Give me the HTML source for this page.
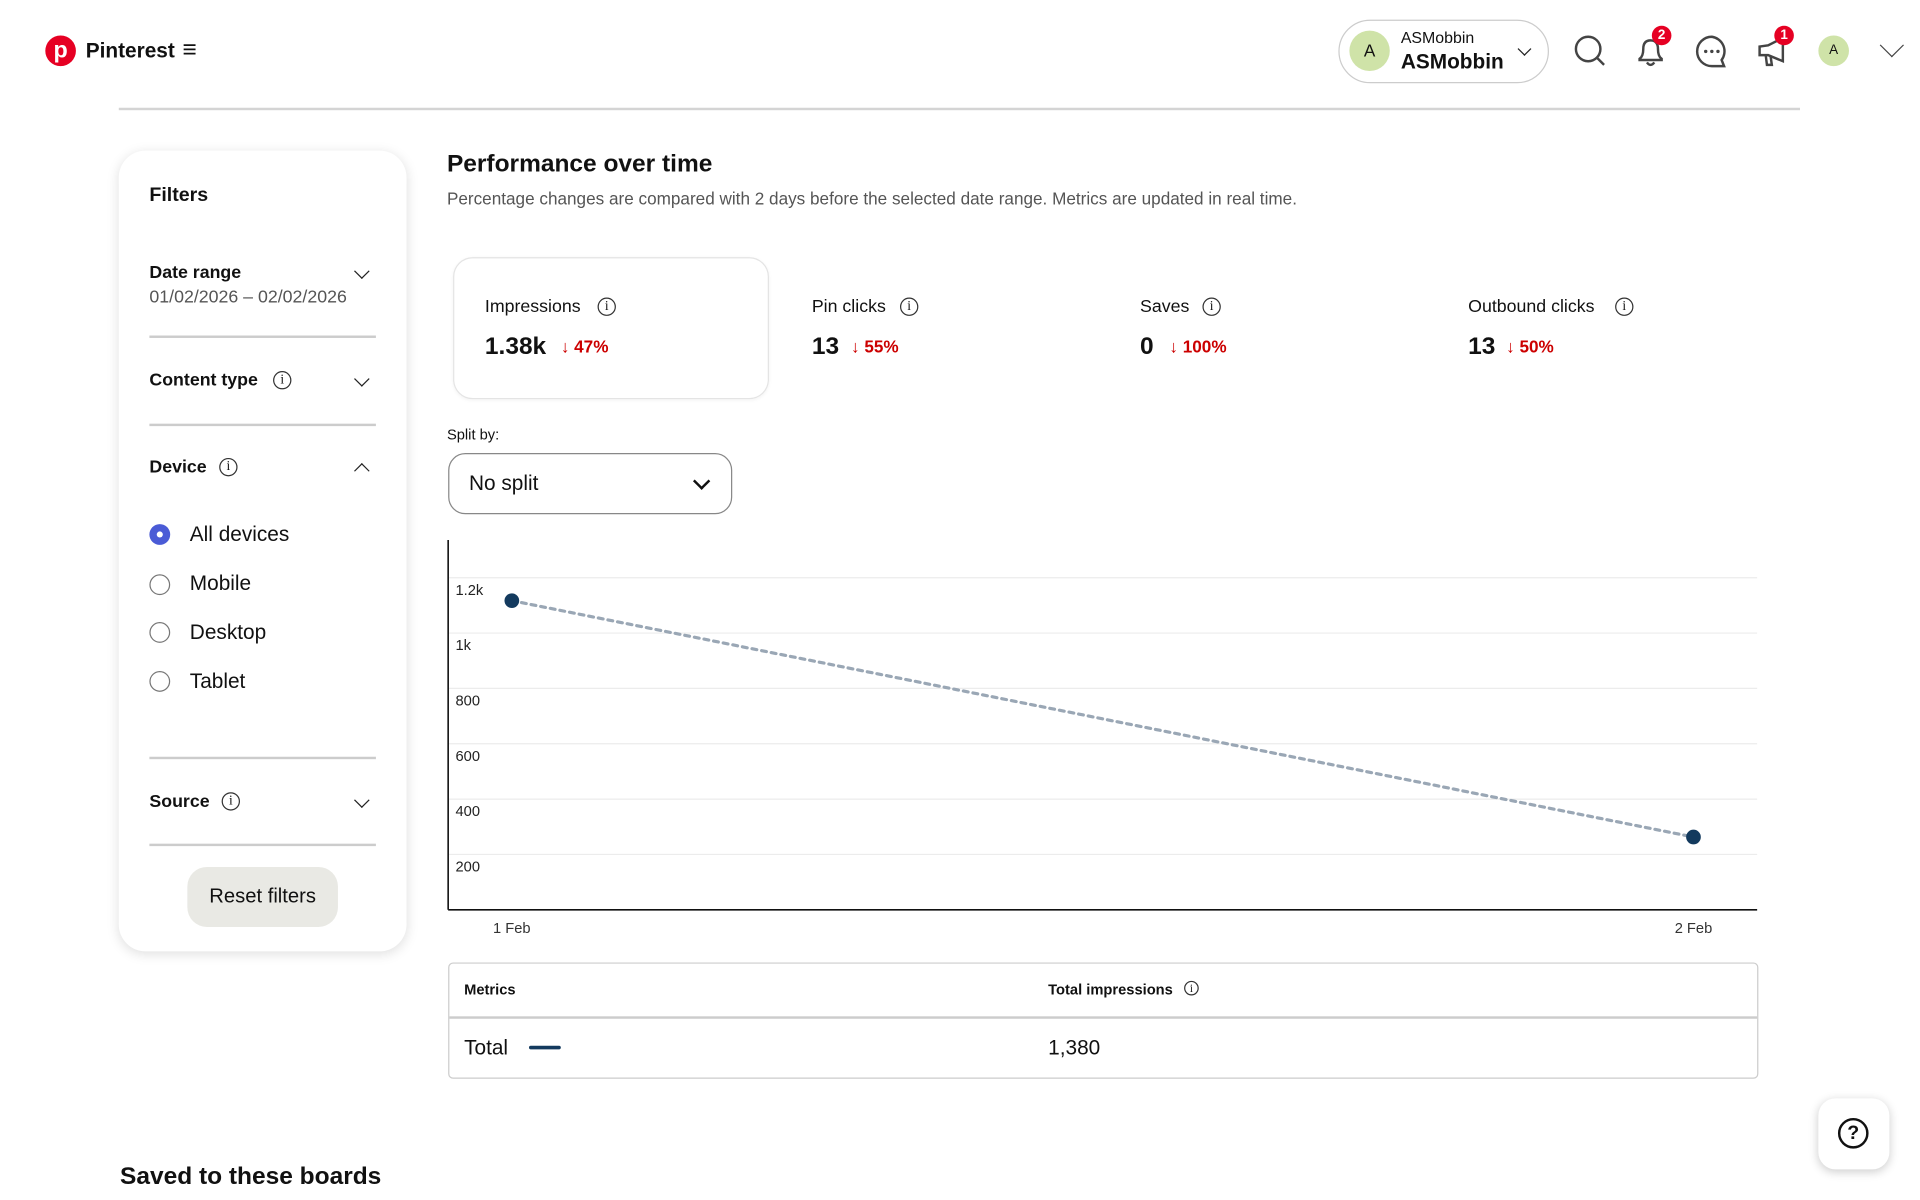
<!DOCTYPE html>
<html><head><meta charset="utf-8"><style>
html,body{margin:0;padding:0;width:1920px;height:1200px;overflow:hidden;background:#fff;font-family:"Liberation Sans",sans-serif;color:#111}
#s{position:absolute;left:0;top:0;width:1568px;height:980px;transform:scale(1.22449);transform-origin:0 0}
.a{position:absolute}
.b{font-weight:bold}
.ic{position:absolute;width:15px;height:15px;border:1.5px solid #333;border-radius:50%;font-size:11px;text-align:center;font-family:"Liberation Serif",serif;box-sizing:border-box;line-height:12px}
.chev{position:absolute;width:8px;height:8px;border-right:1.5px solid #222;border-bottom:1.5px solid #222;transform:rotate(45deg)}
.chevu{position:absolute;width:8px;height:8px;border-left:1.5px solid #222;border-top:1.5px solid #222;transform:rotate(45deg)}
.hr{position:absolute;height:1.5px;background:#ccc}
.radio{position:absolute;width:14px;height:14px;border:1.5px solid #777;border-radius:50%;box-sizing:border-box}
.red{color:#cc0000;font-weight:bold;font-size:14px}
</style></head><body>
<div id="s">
<div class="a" style="left:37px;top:29px;width:25px;height:25px;border-radius:50%;background:#e60023;color:#fff;font-weight:bold;font-size:19px;text-align:center;line-height:25px">p</div>
<div class="a b" style="left:70px;top:32px;font-size:17px">Pinterest</div>
<div class="a" style="left:149px;top:29px;font-size:20px;line-height:24px">≡</div>
<div class="a" style="left:1093px;top:16px;width:170px;height:50px;border:1.5px solid #ccc;border-radius:26px">
 <div class="a" style="left:8px;top:8px;width:33px;height:33px;border-radius:50%;background:#cfe3a8;text-align:center;line-height:33px;font-size:14px">A</div>
 <div class="a" style="left:50px;top:6px;font-size:13px">ASMobbin</div>
 <div class="a b" style="left:50px;top:24px;font-size:17px">ASMobbin</div>
 <div class="chev" style="left:147px;top:19px;width:7px;height:7px;border-width:1px"></div>
</div>
<svg class="a" style="left:1285px;top:28px" width="28" height="28"><circle cx="12" cy="12" r="10" fill="none" stroke="#444" stroke-width="2"/><line x1="19" y1="19" x2="25" y2="25" stroke="#444" stroke-width="2"/></svg>
<svg class="a" style="left:1334px;top:28px" width="30" height="28"><path d="M5 21 L5 20 Q8 18 8 12 Q8 5 14 5 Q20 5 20 12 Q20 18 23 20 L23 21 Z" fill="none" stroke="#444" stroke-width="2"/><path d="M11 23 Q14 27 17 23" fill="none" stroke="#444" stroke-width="2"/></svg>
<div class="a b" style="left:1349px;top:21px;width:16px;height:16px;border-radius:50%;background:#e60023;color:#fff;font-size:11px;text-align:center;line-height:16px">2</div>
<svg class="a" style="left:1384px;top:28px" width="28" height="28"><path d="M14 2 A12 12 0 1 0 14 26 L24 26 L22 21 A12 12 0 0 0 14 2Z" fill="none" stroke="#444" stroke-width="2"/><circle cx="9" cy="14" r="1.4" fill="#444"/><circle cx="14" cy="14" r="1.4" fill="#444"/><circle cx="19" cy="14" r="1.4" fill="#444"/></svg>
<svg class="a" style="left:1434px;top:28px" width="28" height="28"><path d="M3 10 L10 9 L22 3 L22 22 L10 17 L3 17 Z M8 17 L9 25 L13 25 L12 18" fill="none" stroke="#444" stroke-width="2"/></svg>
<div class="a b" style="left:1449px;top:21px;width:16px;height:16px;border-radius:50%;background:#e60023;color:#fff;font-size:11px;text-align:center;line-height:16px">1</div>
<div class="a" style="left:1485px;top:29px;width:25px;height:25px;border-radius:50%;background:#cfe3a8;text-align:center;line-height:25px;font-size:11px">A</div>
<div class="chev" style="left:1538px;top:30px;width:13px;height:13px;border-width:1.5px;border-color:#444"></div>
<div class="hr" style="left:97px;top:88px;width:1373px;background:#d4d4d4"></div>

<div class="a" style="left:97px;top:123px;width:235px;height:654px;border-radius:22px;box-shadow:0 2px 10px rgba(0,0,0,.13);background:#fff">
 <div class="a b" style="left:25px;top:28px;font-size:16px">Filters</div>
 <div class="a b" style="left:25px;top:92px;font-size:14.5px">Date range</div>
 <div class="chev" style="left:194px;top:94px"></div>
 <div class="a" style="left:25px;top:112px;font-size:14.5px;color:#555">01/02/2026 – 02/02/2026</div>
 <div class="hr" style="left:25px;top:151px;width:185px"></div>
 <div class="a b" style="left:25px;top:180px;font-size:14.5px">Content type</div>
 <div class="ic" style="left:126px;top:180px">i</div>
 <div class="chev" style="left:194px;top:182px"></div>
 <div class="hr" style="left:25px;top:223px;width:185px"></div>
 <div class="a b" style="left:25px;top:251px;font-size:14.5px">Device</div>
 <div class="ic" style="left:82px;top:251px">i</div>
 <div class="chevu" style="left:194px;top:257px"></div>
 <div class="a" style="left:25px;top:305px;width:17px;height:17px;border-radius:50%;background:#4a5bd6"><div class="a" style="left:6px;top:6px;width:5px;height:5px;border-radius:50%;background:#fff"></div></div>
 <div class="a" style="left:58px;top:304px;font-size:17px">All devices</div>
 <div class="radio" style="left:25px;top:346px;width:17px;height:17px"></div>
 <div class="a" style="left:58px;top:344px;font-size:17px">Mobile</div>
 <div class="radio" style="left:25px;top:385px;width:17px;height:17px"></div>
 <div class="a" style="left:58px;top:384px;font-size:17px">Desktop</div>
 <div class="radio" style="left:25px;top:425px;width:17px;height:17px"></div>
 <div class="a" style="left:58px;top:424px;font-size:17px">Tablet</div>
 <div class="hr" style="left:25px;top:495px;width:185px"></div>
 <div class="a b" style="left:25px;top:524px;font-size:14.5px">Source</div>
 <div class="ic" style="left:84px;top:524px">i</div>
 <div class="chev" style="left:194px;top:526px"></div>
 <div class="hr" style="left:25px;top:566px;width:185px"></div>
 <div class="a" style="left:56px;top:585px;width:123px;height:49px;border-radius:16px;background:#e9e9e4;text-align:center;line-height:49px;font-size:16.5px">Reset filters</div>
</div>

<div class="a b" style="left:365px;top:123px;font-size:20px">Performance over time</div>
<div class="a" style="left:365px;top:154px;font-size:14px;color:#555">Percentage changes are compared with 2 days before the selected date range. Metrics are updated in real time.</div>

<div class="a" style="left:370px;top:210px;width:256px;height:114px;border:1.5px solid #e4e4e4;border-radius:16px;box-shadow:0 1px 3px rgba(0,0,0,.05)"></div>
<div class="a" style="left:396px;top:243px;font-size:14.5px">Impressions</div><div class="ic" style="left:488px;top:243px">i</div>
<div class="a b" style="left:396px;top:272px;font-size:20px">1.38k</div><div class="a red" style="left:458px;top:275px">↓ 47%</div>
<div class="a" style="left:663px;top:243px;font-size:14.5px">Pin clicks</div><div class="ic" style="left:735px;top:243px">i</div>
<div class="a b" style="left:663px;top:272px;font-size:20px">13</div><div class="a red" style="left:695px;top:275px">↓ 55%</div>
<div class="a" style="left:931px;top:243px;font-size:14.5px">Saves</div><div class="ic" style="left:982px;top:243px">i</div>
<div class="a b" style="left:931px;top:272px;font-size:20px">0</div><div class="a red" style="left:955px;top:275px">↓ 100%</div>
<div class="a" style="left:1199px;top:243px;font-size:14.5px">Outbound clicks</div><div class="ic" style="left:1319px;top:243px">i</div>
<div class="a b" style="left:1199px;top:272px;font-size:20px">13</div><div class="a red" style="left:1230px;top:275px">↓ 50%</div>

<div class="a" style="left:365px;top:348px;font-size:12px">Split by:</div>
<div class="a" style="left:366px;top:370px;width:230px;height:48px;border:1.5px solid #888;border-radius:14px">
 <div class="a" style="left:16px;top:14px;font-size:17px">No split</div>
 <div class="chev" style="left:201px;top:17px;border-width:2px;border-color:#111"></div>
</div>

<svg class="a" id="chart" style="left:0;top:0" width="1568" height="980"></svg>

<div class="a" style="left:366px;top:786px;width:1068px;height:93px;border:1.5px solid #ccc;border-radius:4px">
 <div class="a b" style="left:12px;top:14px;font-size:12px">Metrics</div>
 <div class="a b" style="left:489px;top:14px;font-size:12px">Total impressions</div>
 <div class="ic" style="left:600px;top:14px;width:12px;height:12px;font-size:9px;line-height:10px;border-width:1px">i</div>
 <div class="a" style="left:0;top:43px;width:1068px;height:2px;background:#ccc"></div>
 <div class="a" style="left:12px;top:59px;font-size:17px">Total</div>
 <div class="a" style="left:65px;top:67px;width:26px;height:3px;border-radius:2px;background:#133a5e"></div>
 <div class="a" style="left:489px;top:59px;font-size:17px">1,380</div>
</div>

<div class="a b" style="left:98px;top:950px;font-size:20px">Saved to these boards</div>
<div class="a" style="left:1485px;top:897px;width:58px;height:58px;border-radius:14px;background:#fff;box-shadow:0 2px 8px rgba(0,0,0,.2)">
 <div class="a b" style="left:16px;top:16px;width:21px;height:21px;border:2.2px solid #111;border-radius:50%;text-align:center;line-height:21px;font-size:16px">?</div>
</div>
</div>
<script>
const categories=["1 Feb","2 Feb"];
const values=[1117,263];
const yTicks=[200,400,600,800,1000,1200];
const yTickLabels=["200","400","600","800","1k","1.2k"];
const svg=document.getElementById('chart');
const NS='http://www.w3.org/2000/svg';
const X0=366,X1=1435,Y0=743,YT=441;
const y=v=>Y0-v*(45.2/200);
const x=i=>418+i*(1383-418)/(categories.length-1);
function mk(t,a){const e=document.createElementNS(NS,t);for(const k in a)e.setAttribute(k,a[k]);svg.appendChild(e);return e;}
yTicks.forEach((t,i)=>{
 const g=mk('line',{x1:X0,x2:X1,y1:y(t),y2:y(t),stroke:'#ececec','stroke-width':1});
 
 
 const l=mk('text',{x:372,y:y(t)+14,'font-size':12,fill:'#222','font-family':'Liberation Sans'});
 l.textContent=yTickLabels[i];
 
 
});
const ya=mk('line',{x1:X0,x2:X0,y1:YT,y2:Y0,stroke:'#111','stroke-width':1.3});


const xa=mk('line',{x1:X0,x2:X1,y1:Y0,y2:Y0,stroke:'#111','stroke-width':1.3});


const ln=mk('polyline',{points:values.map((v,i)=>x(i)+','+y(v)).join(' '),fill:'none',stroke:'#9aa7b5','stroke-width':2.6,'stroke-dasharray':'4 4','stroke-linecap':'round'});


values.forEach((v,i)=>{
 const c=mk('circle',{cx:x(i),cy:y(v),r:6,fill:'#133a5e'});
 
 
 const t=mk('text',{x:x(i),y:762,'font-size':12,fill:'#333','text-anchor':'middle','font-family':'Liberation Sans'});
 t.textContent=categories[i];
 
 
});
</script>
</body></html>
